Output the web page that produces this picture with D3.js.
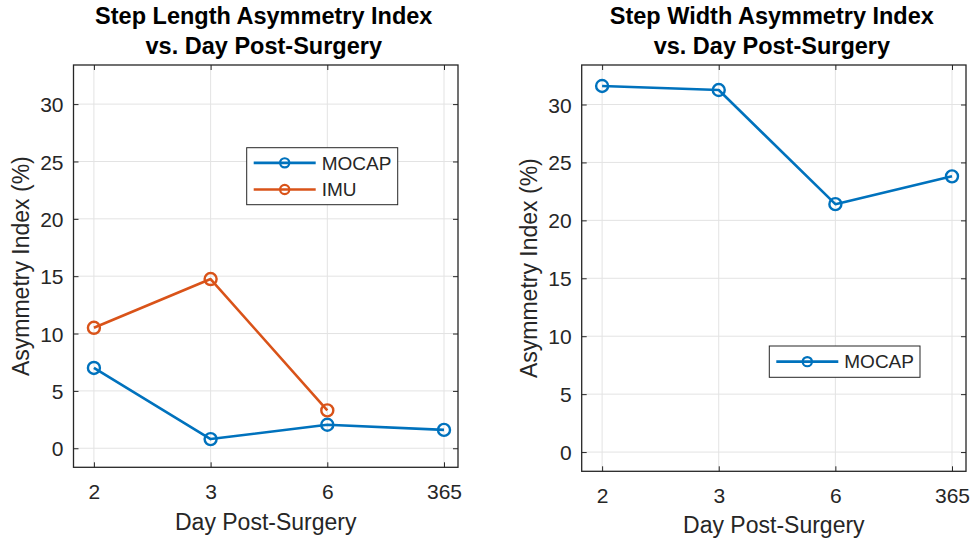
<!DOCTYPE html>
<html>
<head>
<meta charset="utf-8">
<script src="https://cdn.jsdelivr.net/npm/d3@7"></script>
<style>
  html, body { margin: 0; padding: 0; background: #fff; }
  svg { display: block; font-family: "Liberation Sans", Arial, Helvetica, sans-serif; }
</style>
</head>
<body>
<svg id="chart" width="972" height="540"></svg>
<script>
// Day labels shared by both panels (categorical x positions 1..4)
const days = ["2", "3", "6", "365"];
const yTicks = [0, 5, 10, 15, 20, 25, 30];

// Step length asymmetry index (%)
const stepLengthMocap = [7.0, 0.8, 2.05, 1.6];
const stepLengthImu = [10.5, 14.75, 3.3];

// Step width asymmetry index (%)
const stepWidthMocap = [31.6, 31.25, 21.4, 23.8];

const BLUE = "#0072BD";
const ORANGE = "#D95319";
const AXIS = "#262626";
const GRID = "#e3e3e3";

const svg = d3.select("#chart");

const panels = [
  {
    title: ["Step Length Asymmetry Index", "vs. Day Post-Surgery"],
    box: { x0: 73.5, x1: 458, y0: 65, y1: 467.3 },
    series: [
      { name: "MOCAP", values: stepLengthMocap, color: BLUE },
      { name: "IMU", values: stepLengthImu, color: ORANGE }
    ],
    legend: { x: 246.7, y: 147.7, w: 151, h: 57 },
    tickBaseline: 499.5,
    xLabelBaseline: 529.5,
    yLabelX: 28.5
  },
  {
    title: ["Step Width Asymmetry Index", "vs. Day Post-Surgery"],
    box: { x0: 581.7, x1: 966, y0: 65, y1: 471.3 },
    series: [
      { name: "MOCAP", values: stepWidthMocap, color: BLUE }
    ],
    legend: { x: 769.3, y: 346, w: 150.7, h: 31.3 },
    tickBaseline: 503,
    xLabelBaseline: 532.5,
    yLabelX: 536.5
  }
];

panels.forEach(p => {
  const b = p.box;
  const x = d3.scaleLinear().domain([0.825, 4.12]).range([b.x0, b.x1]);
  const y = d3.scaleLinear().domain([-1.66, 33.41]).range([b.y1, b.y0]);
  const g = svg.append("g");

  // grid
  g.append("g").selectAll("line.gx").data(days).join("line")
    .attr("x1", (d, i) => x(i + 1)).attr("x2", (d, i) => x(i + 1))
    .attr("y1", b.y0).attr("y2", b.y1)
    .attr("stroke", GRID).attr("stroke-width", 1);
  g.append("g").selectAll("line.gy").data(yTicks).join("line")
    .attr("x1", b.x0).attr("x2", b.x1)
    .attr("y1", d => y(d)).attr("y2", d => y(d))
    .attr("stroke", GRID).attr("stroke-width", 1);

  // axes with inward ticks on all four sides
  const tickLen = 5;
  const xAxisB = d3.axisBottom(x).tickValues([1, 2, 3, 4]).tickFormat((d) => days[d - 1]).tickSizeInner(-tickLen).tickSizeOuter(0).tickPadding(0);
  const xAxisT = d3.axisTop(x).tickValues([1, 2, 3, 4]).tickFormat("").tickSizeInner(-tickLen).tickSizeOuter(0);
  const yAxisL = d3.axisLeft(y).tickValues(yTicks).tickSizeInner(-tickLen).tickSizeOuter(0).tickPadding(10);
  const yAxisR = d3.axisRight(y).tickValues(yTicks).tickFormat("").tickSizeInner(-tickLen).tickSizeOuter(0);

  const ax = [
    g.append("g").attr("transform", `translate(0,${b.y1})`).call(xAxisB),
    g.append("g").attr("transform", `translate(0,${b.y0})`).call(xAxisT),
    g.append("g").attr("transform", `translate(${b.x0},0)`).call(yAxisL),
    g.append("g").attr("transform", `translate(${b.x1},0)`).call(yAxisR)
  ];
  ax.forEach(a => {
    a.select(".domain").remove();
    a.selectAll(".tick line").attr("stroke", AXIS).attr("stroke-width", 1);
    a.selectAll(".tick text").attr("fill", AXIS).attr("font-size", 21)
      .attr("font-family", "'Liberation Sans', Arial, sans-serif");
  });
  ax[0].selectAll(".tick text").attr("dy", null).attr("y", p.tickBaseline - b.y1);
  ax[2].selectAll(".tick text").attr("dy", "0.36em");

  // box
  g.append("rect").attr("x", b.x0).attr("y", b.y0)
    .attr("width", b.x1 - b.x0).attr("height", b.y1 - b.y0)
    .attr("fill", "none").attr("stroke", AXIS).attr("stroke-width", 1.3);

  // series lines and markers
  const line = d3.line().x((d, i) => x(i + 1)).y(d => y(d));
  p.series.forEach(s => {
    g.append("path").datum(s.values).attr("d", line)
      .attr("fill", "none").attr("stroke", s.color).attr("stroke-width", 2.6)
      .attr("stroke-linejoin", "round");
    g.append("g").selectAll("circle").data(s.values).join("circle")
      .attr("cx", (d, i) => x(i + 1)).attr("cy", d => y(d)).attr("r", 6)
      .attr("fill", "none").attr("stroke", s.color).attr("stroke-width", 2.4);
  });

  // title
  const cx = (b.x0 + b.x1) / 2 - 2;
  g.append("text").attr("x", cx).attr("y", 23.5).attr("text-anchor", "middle")
    .attr("font-size", 23.5).attr("font-weight", "bold").attr("fill", "#000")
    .text(p.title[0]);
  g.append("text").attr("x", cx).attr("y", 53.5).attr("text-anchor", "middle")
    .attr("font-size", 23.5).attr("font-weight", "bold").attr("fill", "#000")
    .text(p.title[1]);

  // axis labels
  g.append("text").attr("x", (b.x0 + b.x1) / 2).attr("y", p.xLabelBaseline)
    .attr("text-anchor", "middle").attr("font-size", 23).attr("fill", AXIS)
    .text("Day Post-Surgery");
  g.append("text")
    .attr("transform", `translate(${p.yLabelX},${(b.y0 + b.y1) / 2}) rotate(-90)`)
    .attr("text-anchor", "middle").attr("font-size", 23).attr("fill", AXIS)
    .text("Asymmetry Index (%)");

  // legend
  const L = p.legend;
  const lg = g.append("g");
  lg.append("rect").attr("x", L.x).attr("y", L.y).attr("width", L.w).attr("height", L.h)
    .attr("fill", "#fff").attr("stroke", AXIS).attr("stroke-width", 1);
  const rowH = 26.7;
  const firstRow = L.y + (L.h - rowH * (p.series.length - 1)) / 2;
  p.series.forEach((s, i) => {
    const ry = firstRow + i * rowH;
    lg.append("line").attr("x1", L.x + 7).attr("x2", L.x + 69)
      .attr("y1", ry).attr("y2", ry).attr("stroke", s.color).attr("stroke-width", 2.6);
    lg.append("circle").attr("cx", L.x + 38).attr("cy", ry).attr("r", 4.6)
      .attr("fill", "none").attr("stroke", s.color).attr("stroke-width", 2.2);
    lg.append("text").attr("x", L.x + 75).attr("y", ry).attr("dy", "0.36em")
      .attr("font-size", 19).attr("fill", AXIS).text(s.name);
  });
});
</script>
</body>
</html>
